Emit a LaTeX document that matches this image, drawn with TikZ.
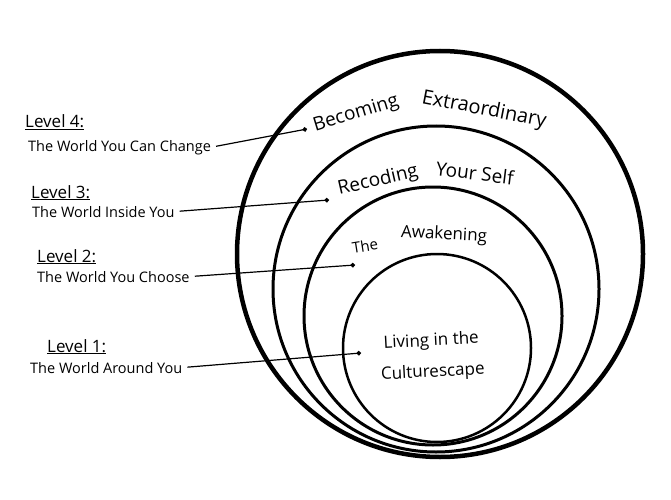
\documentclass[tikz,border=0pt]{standalone}
\usepackage{fontspec}
\setmainfont{Open Sans}
\usetikzlibrary{arrows.meta}
\tikzstyle{ring} = [draw, line width=3pt]
\tikzstyle{level} = [inner sep=0pt, anchor=base west, font=\fontsize{17}{19}\selectfont]
\tikzstyle{world} = [inner sep=0pt, anchor=base west, font=\fontsize{14.5}{16}\selectfont]
\tikzstyle{word} = [inner sep=0pt]
\tikzstyle{link} = [line width=1.2pt, shorten <=5pt, -{Circle[length=4.5pt]}]
\newcommand{\ringfont}[1]{\fontsize{#1}{#1}\selectfont}

\begin{document}
\begin{tikzpicture}[x=1pt, y=1pt]
    \useasboundingbox [fill=white] (0,0) rectangle (671,499);
    \draw [ring, line width=4.5pt] (440,245) circle (203pt);
    \draw [ring] (436,210) circle (163pt);
    \draw [ring] (433,183) circle (129pt);
    \draw [ring, line width=2.5pt] (437,151) circle (94pt);

    \node [word, rotate=17, font=\ringfont{19}] (becoming) at (356,385) {Becoming};
    \node [word, rotate=-11, font=\ringfont{20}] (extra) at (484,389) {Extraordinary};
    \node [word, rotate=13, font=\ringfont{19}] (recoding) at (378,318) {Recoding};
    \node [word, rotate=-7, font=\ringfont{19}] (yourself) at (475,326) {Your Self};
    \node [word, rotate=9, font=\ringfont{15}] (the) at (365,253) {The};
    \node [word, rotate=-3, font=\ringfont{17}] (awakening) at (444,264) {Awakening};
    \node [word, rotate=3, align=center, font=\fontsize{17}{31}\selectfont] (living) at (432,142) {Living in the\\Culturescape};

    \node [level] (level4) at (25,371) {\underline{Level 4:}};
    \node [world] (world4) at (28,348) {The World You Can Change};
    \node [level] (level3) at (31,301) {\underline{Level 3:}};
    \node [world] (world3) at (32,282) {The World Inside You};
    \node [level] (level2) at (37,237) {\underline{Level 2:}};
    \node [world] (world2) at (37,217) {The World You Choose};
    \node [level] (level1) at (47,147) {\underline{Level 1:}};
    \node [world] (world1) at (30,126) {The World Around You};

    \coordinate (dot4) at (307,370);
    \coordinate (dot3) at (329,299);
    \coordinate (dot2) at (355,234);
    \coordinate (dot1) at (361,146);
    \draw [link] (world4.east) -- (dot4);
    \draw [link] (world3.east) -- (dot3);
    \draw [link] (world2.east) -- (dot2);
    \draw [link] (world1.east) -- (dot1);
\end{tikzpicture}
\end{document}
